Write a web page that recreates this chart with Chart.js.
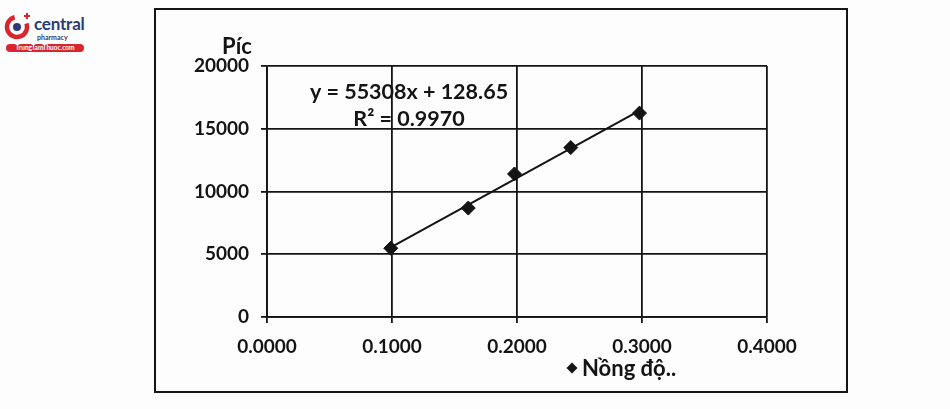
<!DOCTYPE html>
<html>
<head>
<meta charset="utf-8">
<script src="https://cdn.jsdelivr.net/npm/chart.js@4/dist/chart.umd.min.js"></script>
<style>
  html, body { margin: 0; padding: 0; background: #fdfdfd; }
  #wrap { position: relative; width: 950px; height: 409px; overflow: hidden; }
  #frame { position: absolute; left: 154px; top: 8px; width: 690px; height: 381px; border: 2px solid #151515; }
  canvas { position: absolute; left: 0; top: 0; }
  #logo { position: absolute; left: 4px; top: 12px; width: 82px; height: 42px; font-family: Lato, sans-serif; }
  #logo .c { position: absolute; left: 30px; top: 3px; font-size: 17px; font-weight: 700; color: #2c3b78; letter-spacing: -0.2px; line-height: 18px; }
  #logo .p { position: absolute; left: 33px; top: 21px; font-size: 7px; font-weight: 700; color: #2c3b78; }
  #logo .pill { position: absolute; left: 2px; top: 32px; width: 78px; height: 8px; border-radius: 4px; background: #d8262e; color: #fff; font-size: 6.5px; line-height: 8px; text-align: center; font-weight: 700; }
</style>
</head>
<body>
<div id="wrap">
  <div id="logo">
    <svg width="30" height="30" style="position:absolute;left:0;top:0">
      <circle cx="13" cy="15" r="10" fill="none" stroke="#d8262e" stroke-width="4.5" stroke-dasharray="48 18" transform="rotate(-20 13 15)"/>
      <circle cx="13" cy="15" r="4" fill="#2c3b78"/>
      <rect x="20" y="3" width="6" height="2" fill="#d8262e"/>
      <rect x="22" y="1" width="2" height="6" fill="#d8262e"/>
    </svg>
    <div class="c">central</div>
    <div class="p">pharmacy</div>
    <div class="pill">TrungTamThuoc.com</div>
  </div>
  <div id="frame"></div>
  <canvas id="c" width="950" height="409"></canvas>
</div>
<script>
// ---- data ----
const concentrations = [0.099, 0.161, 0.198, 0.243, 0.298];
const peakAreas      = [5480, 8680, 11400, 13500, 16250];
const trendX         = [0.099, 0.298];
const trendY         = [5550, 16450];
const xTicks         = [0, 0.1, 0.2, 0.3, 0.4];
const yTicks         = [0, 5000, 10000, 15000, 20000];
const seriesName     = 'Nồng độ..';
const yAxisTitle     = 'Píc';
const equationText   = 'y = 55308x + 128.65';
const r2Text         = 'R² = 0.9970';

const INK = '#141414';
const FONT = 'Lato, "Open Sans", sans-serif';

const labelsPlugin = {
  id: 'labelsPlugin',
  afterDraw(chart) {
    const ctx = chart.ctx;
    ctx.save();
    ctx.fillStyle = INK;
    ctx.textBaseline = 'middle';
    ctx.textAlign = 'center';
    ctx.font = '700 22px ' + FONT;
    ctx.fillText(yAxisTitle, 237, 47);
    ctx.font = '700 21.5px ' + FONT;
    ctx.fillText(equationText, 409, 92);
    ctx.fillText(r2Text, 409, 119);
    // legend
    ctx.textAlign = 'left';
    ctx.font = '700 22px ' + FONT;
    const lx = 572, ly = 368;
    ctx.beginPath();
    ctx.moveTo(lx, ly - 5.5); ctx.lineTo(lx + 5.5, ly); ctx.lineTo(lx, ly + 5.5); ctx.lineTo(lx - 5.5, ly); ctx.closePath();
    ctx.fill();
    ctx.fillText(seriesName, 582, ly + 1);
    ctx.restore();
  }
};

new Chart(document.getElementById('c'), {
  type: 'scatter',
  data: {
    datasets: [
      {
        label: 'Trend',
        data: trendX.map((x, i) => ({ x, y: trendY[i] })),
        showLine: true,
        borderColor: INK,
        borderWidth: 2,
        pointRadius: 0,
        order: 2
      },
      {
        label: seriesName,
        data: concentrations.map((x, i) => ({ x, y: peakAreas[i] })),
        pointStyle: 'rectRot',
        pointRadius: 7,
        pointHoverRadius: 7,
        backgroundColor: INK,
        borderColor: INK,
        order: 1
      }
    ]
  },
  options: {
    responsive: false,
    animation: false,
    devicePixelRatio: 1,
    layout: { padding: { left: 187, right: 183, top: 66, bottom: 52 } },
    plugins: { legend: { display: false }, tooltip: { enabled: false } },
    scales: {
      x: {
        type: 'linear', min: 0, max: 0.4,
        afterBuildTicks: s => { s.ticks = xTicks.map(v => ({ value: v })); },
        afterFit: s => { s.height = 40; },
        grid: { color: INK, lineWidth: 1.8, tickLength: 6, drawTicks: true },
        border: { display: true, color: INK, width: 1.8 },
        ticks: { color: INK, font: { family: FONT, size: 19, weight: '700' }, padding: 12,
                 callback: v => Number(v).toFixed(4) }
      },
      y: {
        type: 'linear', min: 0, max: 20000,
        afterBuildTicks: s => { s.ticks = yTicks.map(v => ({ value: v })); },
        afterFit: s => { s.width = 80; },
        grid: { color: INK, lineWidth: 1.8, tickLength: 6 },
        border: { display: true, color: INK, width: 1.8 },
        ticks: { color: INK, font: { family: FONT, size: 19, weight: '700' }, padding: 12,
                 callback: v => String(v) }
      }
    }
  },
  plugins: [labelsPlugin]
});
</script>
</body>
</html>
